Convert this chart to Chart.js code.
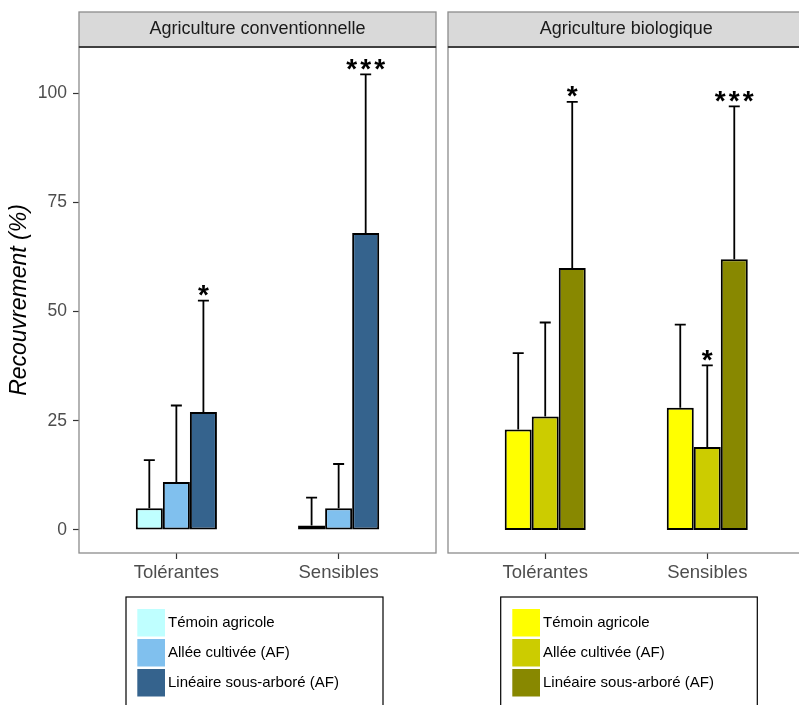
<!DOCTYPE html>
<html><head><meta charset="utf-8">
<script src="https://cdn.jsdelivr.net/npm/chart.js@4.4.1/dist/chart.umd.min.js"></script>
<style>
html,body{margin:0;padding:0;background:#fff;}
#wrap{position:relative;width:799px;height:705px;overflow:hidden;background:#fff;}
canvas{position:absolute;top:0;}
#c1{left:0;width:442px;height:705px;}
#c2{left:442px;width:370px;height:705px;}
</style></head><body>
<div id="wrap"><canvas id="c1" width="442" height="705"></canvas><canvas id="c2" width="370" height="705"></canvas></div>
<script>
// ---------- DATA ----------
const categories = ['Tolérantes', 'Sensibles'];
const seriesNames = ['Témoin agricole', 'Allée cultivée (AF)', 'Linéaire sous-arboré (AF)'];
const panelTitles = ['Agriculture conventionnelle', 'Agriculture biologique'];
const yTickValues = [0, 25, 50, 75, 100];
const yAxisTitle = 'Recouvrement (%)';

// Agriculture conventionnelle : moyennes, extrémité haute des barres d'erreur, significativité
const convTemoin = [5, 1];
const convAllee = [11, 5];
const convLineaire = [27, 68];
const convTemoinUpper = [16, 7.4];
const convAlleeUpper = [28.5, 15.1];
const convLineaireUpper = [52.5, 104.3];
const convTemoinSig = ['', ''];
const convAlleeSig = ['', ''];
const convLineaireSig = ['*', '***'];

// Agriculture biologique
const bioTemoin = [23, 28];
const bioAllee = [26, 19];
const bioLineaire = [60, 62];
const bioTemoinUpper = [40.5, 47];
const bioAlleeUpper = [47.5, 37.7];
const bioLineaireUpper = [98, 97];
const bioTemoinSig = ['', ''];
const bioAlleeSig = ['', '*'];
const bioLineaireSig = ['*', '***'];

// ---------- STYLE ----------
const FONT = '"Liberation Sans", Arial, Helvetica, sans-serif';
const convColors = ['#BFFFFF', '#80C0EE', '#35638D'];
const bioColors = ['#FFFF00', '#CCCC00', '#888800'];

const panelDecor = {
  id: 'panelDecor',
  afterDatasetsDraw(chart, args, opts) {
    const ctx = chart.ctx;
    const ys = chart.scales.y;
    ctx.save();
    chart.data.datasets.forEach((ds, i) => {
      const meta = chart.getDatasetMeta(i);
      meta.data.forEach((el, j) => {
        const top = ys.getPixelForValue(ds.upper[j]);
        ctx.strokeStyle = '#000';
        ctx.lineWidth = 1.8;
        ctx.beginPath();
        ctx.moveTo(el.x, el.y);
        ctx.lineTo(el.x, top);
        ctx.moveTo(el.x - 5.5, top);
        ctx.lineTo(el.x + 5.5, top);
        ctx.stroke();
        const sig = ds.sig[j];
        if (sig) {
          ctx.font = 'bold 28px ' + FONT;
          ctx.fillStyle = '#000';
          ctx.textAlign = 'center';
          ctx.textBaseline = 'alphabetic';
          const m = ctx.measureText('*');
          const base = top - 4.5 - m.actualBoundingBoxDescent;
          const n = sig.length;
          for (let k = 0; k < n; k++) {
            ctx.fillText('*', el.x + (k - (n - 1) / 2) * 14, base);
          }
        }
      });
    });
    ctx.restore();
  },
  afterDraw(chart, args, opts) {
    const ctx = chart.ctx;
    const a = chart.chartArea;
    ctx.save();
    // panel border
    ctx.strokeStyle = '#8C8C8C';
    ctx.lineWidth = 1.3;
    ctx.strokeRect(a.left, a.top, a.right - a.left, a.bottom - a.top);
    // strip
    ctx.fillStyle = '#D9D9D9';
    ctx.fillRect(a.left, 12, a.right - a.left, a.top - 12);
    ctx.strokeStyle = '#8C8C8C';
    ctx.lineWidth = 1.3;
    ctx.strokeRect(a.left, 12, a.right - a.left, a.top - 12);
    ctx.strokeStyle = '#404040';
    ctx.lineWidth = 2;
    ctx.beginPath();
    ctx.moveTo(a.left, a.top);
    ctx.lineTo(a.right, a.top);
    ctx.stroke();
    ctx.fillStyle = '#1A1A1A';
    ctx.font = '18px ' + FONT;
    ctx.textAlign = 'center';
    ctx.textBaseline = 'middle';
    ctx.fillText(opts.title, (a.left + a.right) / 2, 29.5);
    // legend
    ctx.strokeStyle = '#000';
    ctx.lineWidth = 1.2;
    ctx.strokeRect(opts.boxX, 597, opts.boxW, 140);
    chart.data.datasets.forEach((ds, i) => {
      const ky = 609 + i * 30;
      ctx.fillStyle = ds.backgroundColor;
      ctx.fillRect(opts.keyX, ky, 27.7, 27.5);
      ctx.fillStyle = '#000';
      ctx.font = '15px ' + FONT;
      ctx.textAlign = 'left';
      ctx.textBaseline = 'middle';
      ctx.fillText(ds.label, opts.textX, ky + 14);
    });
    ctx.restore();
  }
};

function makePanel(id, means, uppers, sigs, colors, title, showY, padding, legend) {
  const datasets = seriesNames.map((name, i) => ({
    label: name,
    data: categories.map((c, j) => ({ x: j + 1, y: means[i][j] })),
    backgroundColor: colors[i],
    borderColor: '#000',
    borderWidth: 2,
    borderSkipped: false,
    categoryPercentage: 0.5,
    barPercentage: 1.0,
    upper: uppers[i],
    sig: sigs[i]
  }));
  const yScale = {
    display: showY,
    min: -5.27, max: 110.57,
    afterBuildTicks: s => { s.ticks = yTickValues.map(v => ({ value: v })); },
    ticks: { font: { family: FONT, size: 17.5 }, color: '#4D4D4D', padding: 6 },
    grid: { display: true, drawOnChartArea: false, drawTicks: true, tickLength: 6, tickColor: '#333', tickWidth: 1.2 },
    border: { display: false },
    title: { display: true, text: yAxisTitle, color: '#000', font: { family: FONT, size: 23, style: 'italic' }, padding: { top: 6.2, bottom: 0 } }
  };
  if (showY) yScale.afterFit = s => { s.width = 79; };
  return new Chart(document.getElementById(id), {
    type: 'bar',
    data: { datasets },
    options: {
      responsive: false,
      animation: false,
      devicePixelRatio: 1,
      layout: { padding: padding },
      plugins: {
        legend: { display: false },
        tooltip: { enabled: false },
        panelDecor: Object.assign({ title: title }, legend)
      },
      scales: {
        x: {
          type: 'linear',
          min: 0.4, max: 2.6,
          offset: false,
          afterBuildTicks: s => { s.ticks = categories.map((c, j) => ({ value: j + 1 })); },
          ticks: { font: { family: FONT, size: 18.5 }, color: '#4D4D4D', padding: 2.5, maxRotation: 0, autoSkip: false,
                   callback: (v, idx) => categories[idx] },
          grid: { display: true, offset: false, drawOnChartArea: false, drawTicks: true, tickLength: 6, tickColor: '#333', tickWidth: 1.2 },
          border: { display: false },
          afterFit: s => { s.height = 152; }
        },
        y: yScale
      }
    },
    plugins: [panelDecor]
  });
}

makePanel('c1',
  [convTemoin, convAllee, convLineaire],
  [convTemoinUpper, convAlleeUpper, convLineaireUpper],
  [convTemoinSig, convAlleeSig, convLineaireSig],
  convColors, panelTitles[0], true,
  { left: 0, top: 47, right: 6, bottom: 0 },
  { boxX: 126, boxW: 257, keyX: 137.3, textX: 168 });

makePanel('c2',
  [bioTemoin, bioAllee, bioLineaire],
  [bioTemoinUpper, bioAlleeUpper, bioLineaireUpper],
  [bioTemoinSig, bioAlleeSig, bioLineaireSig],
  bioColors, panelTitles[1], false,
  { left: 6, top: 47, right: 7.5, bottom: 0 },
  { boxX: 58.7, boxW: 256.6, keyX: 70.3, textX: 101 });
</script>
</body></html>
